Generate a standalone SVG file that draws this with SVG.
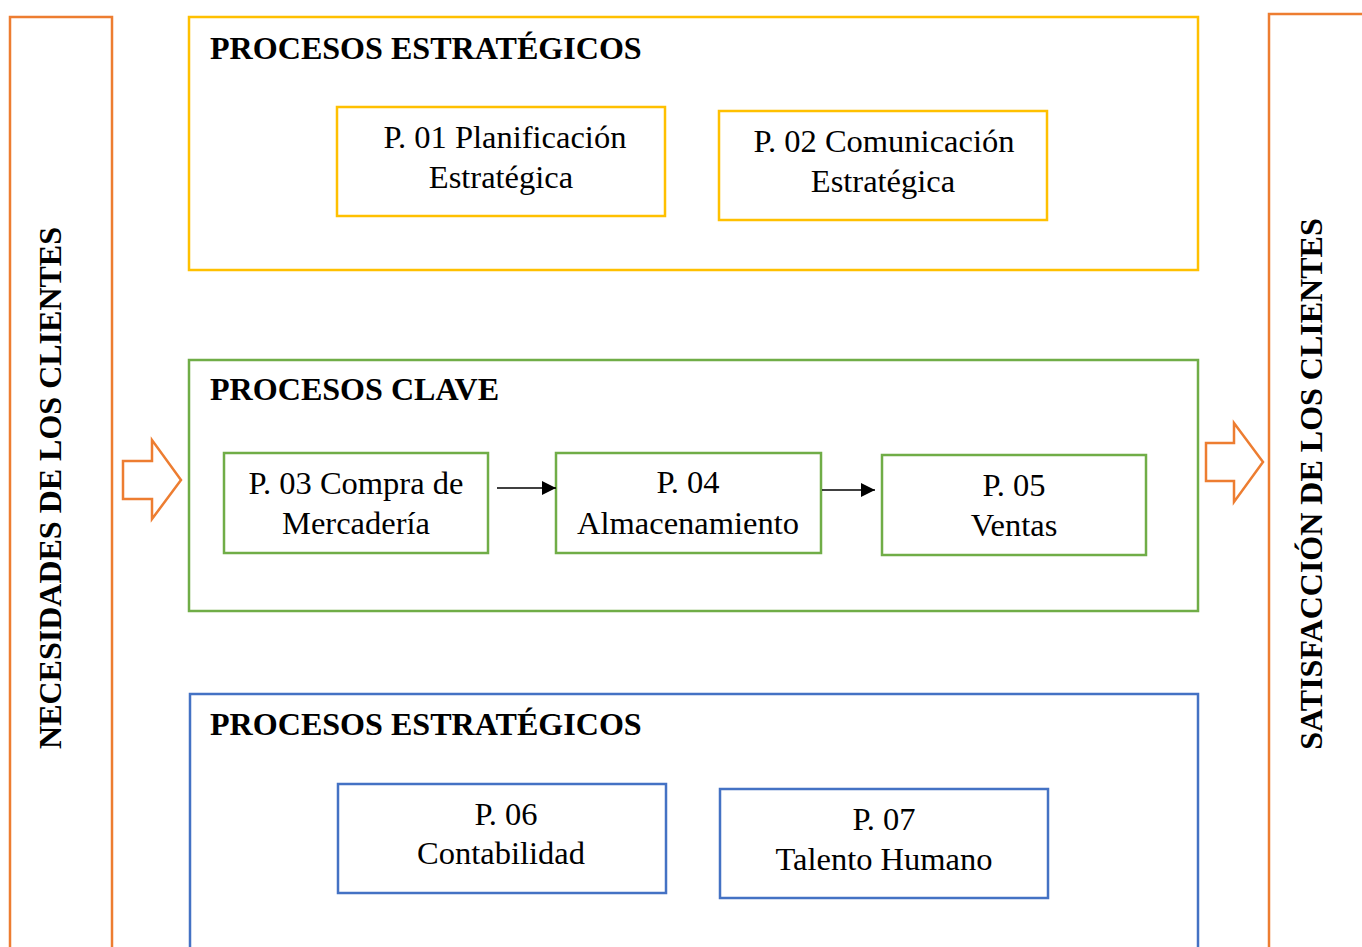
<svg xmlns="http://www.w3.org/2000/svg" width="1362" height="947" viewBox="0 0 1362 947">
<style>
.bg{fill:#fff}
.o{fill:none;stroke:#ED7D31;stroke-width:2.5}
.y{fill:none;stroke:#FFC000;stroke-width:2.5}
.g{fill:none;stroke:#70AD47;stroke-width:2.5}
.b{fill:none;stroke:#4472C4;stroke-width:2.5}
.ttl{font-family:"Liberation Serif","Times New Roman",serif;font-weight:bold;font-size:32.1px;fill:#000}
.t{font-family:"Liberation Serif","Times New Roman",serif;font-size:32.5px;fill:#000;text-anchor:middle}
.vt{font-family:"Liberation Serif","Times New Roman",serif;font-weight:bold;font-size:32px;fill:#000;text-anchor:middle}
.ln{stroke:#000;stroke-width:1.4;fill:none;marker-end:url(#ah)}
</style>
<defs>
<marker id="ah" markerUnits="userSpaceOnUse" markerWidth="15" markerHeight="14" refX="14" refY="7" orient="auto">
<path d="M0,0 L14,7 L0,14 Z" fill="#000"/>
</marker>
</defs>
<rect class="bg" x="0" y="0" width="1362" height="947"/>

<g id="necesidades">
<rect class="o" x="10" y="17" width="102" height="945"/>
<text class="vt" transform="translate(61,488) rotate(-90)">NECESIDADES DE LOS CLIENTES</text>
</g>
<g id="arrow-in">
<path class="o" d="M123,461 L152,461 L152,440 L181,480 L152,519 L152,499 L123,499 Z"/>
</g>
<g id="satisfaccion">
<rect class="o" x="1269" y="14" width="110" height="950"/>
<text class="vt" transform="translate(1322,484) rotate(-90)">SATISFACCIÓN DE LOS CLIENTES</text>
</g>
<g id="arrow-out">
<path class="o" d="M1206,443 L1234,443 L1234,423 L1263,462 L1234,502 L1234,481 L1206,481 Z"/>
</g>

<g id="estrategicos">
<rect class="y" x="189" y="17" width="1009" height="253"/>
<text class="ttl" x="210" y="59">PROCESOS ESTRATÉGICOS</text>
</g>
<g id="p01">
<rect class="y" x="337" y="107" width="328" height="109"/>
<text class="t" x="505" y="148">P. 01 Planificación</text>
<text class="t" x="501" y="188">Estratégica</text>
</g>
<g id="p02">
<rect class="y" x="719" y="111" width="328" height="109"/>
<text class="t" x="884" y="152">P. 02 Comunicación</text>
<text class="t" x="883" y="192">Estratégica</text>
</g>

<g id="clave">
<rect class="g" x="189" y="360" width="1009" height="251"/>
<text class="ttl" x="210" y="400">PROCESOS CLAVE</text>
</g>
<g id="p03">
<rect class="g" x="224" y="453" width="264" height="100"/>
<text class="t" x="356" y="494">P. 03 Compra de</text>
<text class="t" x="356" y="534">Mercadería</text>
</g>
<g id="p04">
<rect class="g" x="556" y="453" width="265" height="100"/>
<text class="t" x="688" y="493">P. 04</text>
<text class="t" x="688" y="534">Almacenamiento</text>
</g>
<g id="p05">
<rect class="g" x="882" y="455" width="264" height="100"/>
<text class="t" x="1014" y="496">P. 05</text>
<text class="t" x="1014" y="536">Ventas</text>
</g>

<g id="apoyo">
<rect class="b" x="190" y="694" width="1008" height="270"/>
<text class="ttl" x="210" y="735">PROCESOS ESTRATÉGICOS</text>
</g>
<g id="p06">
<rect class="b" x="338" y="784" width="328" height="109"/>
<text class="t" x="506" y="825">P. 06</text>
<text class="t" x="501" y="864">Contabilidad</text>
</g>
<g id="p07">
<rect class="b" x="720" y="789" width="328" height="109"/>
<text class="t" x="884" y="830">P. 07</text>
<text class="t" x="884" y="870">Talento Humano</text>
</g>

<g id="connectors">
<line class="ln" x1="497" y1="488" x2="556" y2="488"/>
<line class="ln" x1="822" y1="490" x2="875" y2="490"/>
</g>
</svg>
